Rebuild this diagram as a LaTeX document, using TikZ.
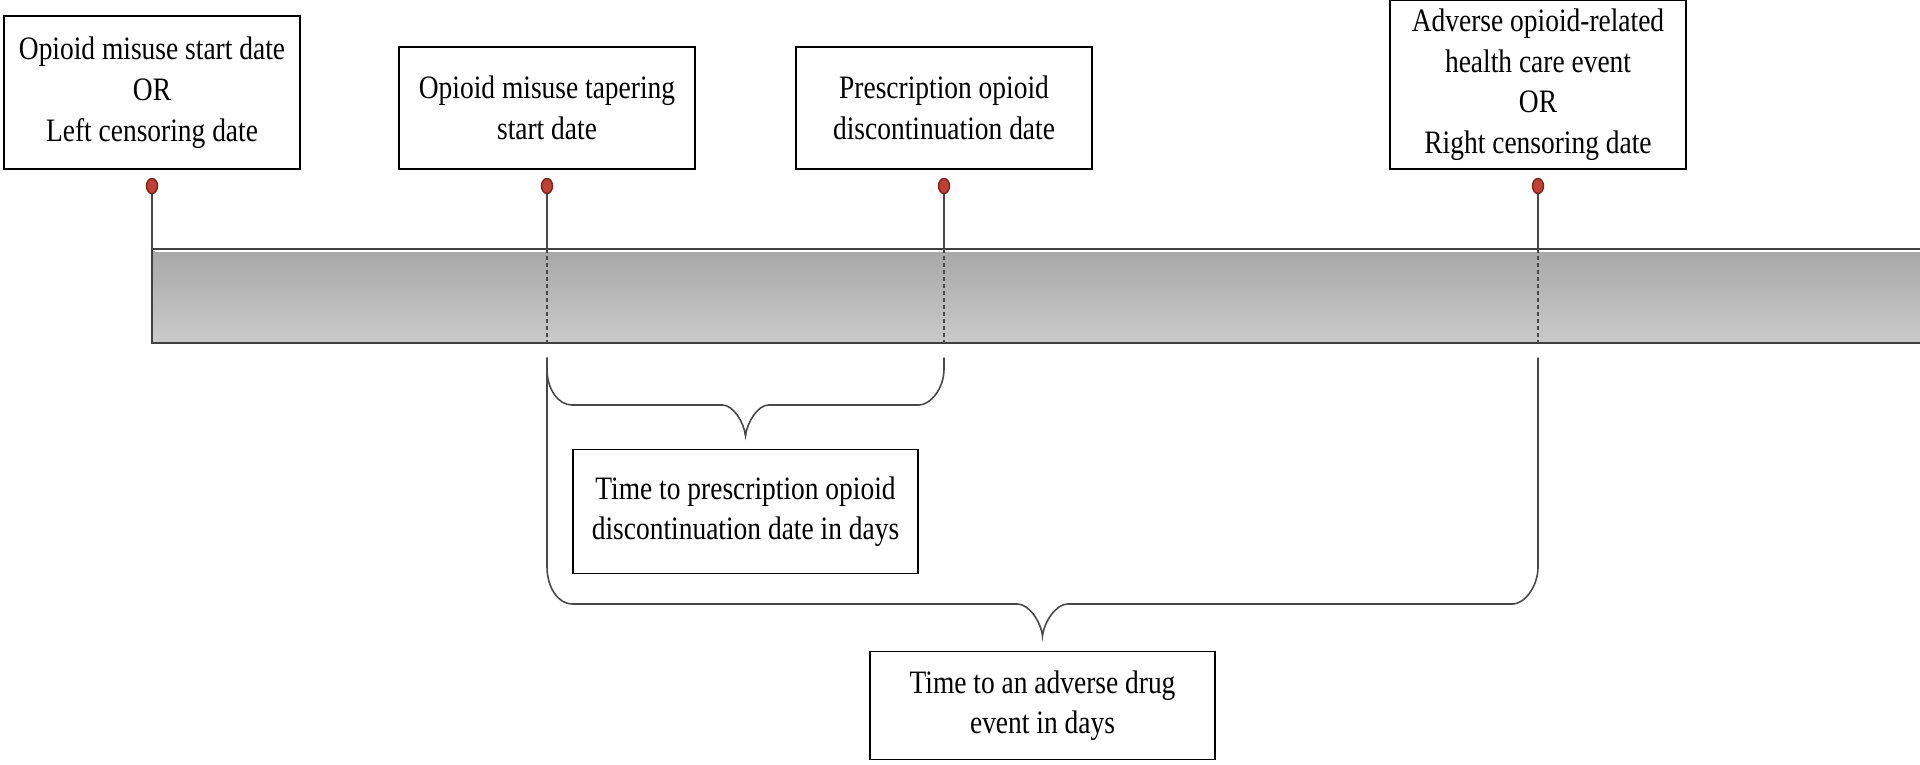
\documentclass[tikz,border=0pt]{standalone}
\usepackage{fontspec}
\setmainfont[FakeStretch=0.84]{Liberation Serif}
\usepackage{tikz}
\usetikzlibrary{ shapes.geometric, % For the ellipse markers
                 positioning,      % For easy node-relative placements
               }
\definecolor{dotred}{RGB}{192,64,52}
\definecolor{dotedge}{RGB}{125,35,28}
\definecolor{linegray}{RGB}{72,72,72}
\definecolor{bartop}{RGB}{168,168,168}
\definecolor{barbottom}{RGB}{202,202,202}
\tikzstyle{event} = [rectangle, draw=black, fill=white, text centered, align=center, inner sep=2pt, minimum width=2.96cm, font=\fontsize{9.3}{11.6}\selectfont]
\tikzstyle{span_box} = [event, minimum width=3.45cm]
\tikzstyle{marker} = [ellipse, minimum width=0.11cm, minimum height=0.15cm, inner sep=0pt, fill=dotred, draw=dotedge, line width=0.4pt]
\tikzstyle{stem} = [draw=linegray, line width=0.6pt]
\tikzstyle{tick} = [draw=linegray, line width=0.4pt, dash pattern=on 0.04cm off 0.03cm]
\tikzstyle{brace} = [draw=linegray, line width=0.45pt]
\tikzstyle{barline} = [draw=black!75, line width=0.6pt]

\begin{document}
\begin{tikzpicture}
  \useasboundingbox (0, 0) rectangle (19.2, 7.64);
  % timeline bar
  \shade [top color=bartop, bottom color=barbottom] (1.52, 5.13) rectangle (19.2, 4.21);
  \draw [white, line width=0.5pt] (1.55, 5.125) -- (19.2, 5.125);
  \draw [barline] (19.2, 5.15) -- (1.52, 5.15) -- (1.52, 4.21) -- (19.2, 4.21);

  % dates
  \node (d1) [marker] at (1.52, 5.78) {};
  \node (d2) [marker] at (5.47, 5.78) {};
  \node (d3) [marker] at (9.44, 5.78) {};
  \node (d4) [marker] at (15.38, 5.78) {};
  \node (e1) [event, minimum height=1.53cm, above=0.08cm of d1] {Opioid misuse start date\\OR\\Left censoring date};
  \node (e2) [event, minimum height=1.22cm, above=0.08cm of d2] {Opioid misuse tapering\\start date};
  \node (e3) [event, minimum height=1.22cm, above=0.08cm of d3] {Prescription opioid\\discontinuation date};
  \node (e4) [event, minimum height=1.69cm, above=0.08cm of d4] {Adverse opioid-related\\health care event\\OR\\Right censoring date};

  \coordinate (t1) at (1.52, 5.15);
  \coordinate (t2) at (5.47, 5.15);
  \coordinate (t3) at (9.44, 5.15);
  \coordinate (t4) at (15.38, 5.15);
  \coordinate (u2) at (5.47, 4.21);
  \coordinate (u3) at (9.44, 4.21);
  \coordinate (u4) at (15.38, 4.21);
  \draw [stem] (d1) -- (t1);
  \draw [stem] (d2) -- (t2);
  \draw [stem] (d3) -- (t3);
  \draw [stem] (d4) -- (t4);
  \draw [tick] (t2) -- (u2);
  \draw [tick] (t3) -- (u3);
  \draw [tick] (t4) -- (u4);

  % spans
  \coordinate (s2) at (5.47, 4.065);
  \coordinate (s3) at (9.44, 4.065);
  \coordinate (s4) at (15.38, 4.065);
  \coordinate (p1) at (7.455, 3.28);
  \coordinate (p2) at (10.425, 1.28);
  \draw [brace] (s2) -- (5.47, 3.95) .. controls (5.47, 3.75) and (5.58, 3.59) .. (5.72, 3.59)
    -- (7.225, 3.59) .. controls (7.33, 3.59) and (7.44, 3.42) .. (p1)
    .. controls (7.47, 3.42) and (7.58, 3.59) .. (7.685, 3.59)
    -- (9.19, 3.59) .. controls (9.30, 3.59) and (9.44, 3.75) .. (9.44, 3.95) -- (s3);
  \draw [brace] (s2) -- (5.47, 1.97) .. controls (5.47, 1.77) and (5.58, 1.60) .. (5.72, 1.60)
    -- (10.175, 1.60) .. controls (10.29, 1.60) and (10.41, 1.42) .. (p2)
    .. controls (10.44, 1.42) and (10.56, 1.60) .. (10.675, 1.60)
    -- (15.13, 1.60) .. controls (15.24, 1.60) and (15.38, 1.77) .. (15.38, 1.97) -- (s4);
  \node (l1) [span_box, minimum height=1.24cm, below=0.13cm of p1] {Time to prescription opioid\\discontinuation date in days};
  \node (l2) [span_box, minimum height=1.08cm, below=0.15cm of p2] {Time to an adverse drug\\event in days};
\end{tikzpicture}
\end{document}
